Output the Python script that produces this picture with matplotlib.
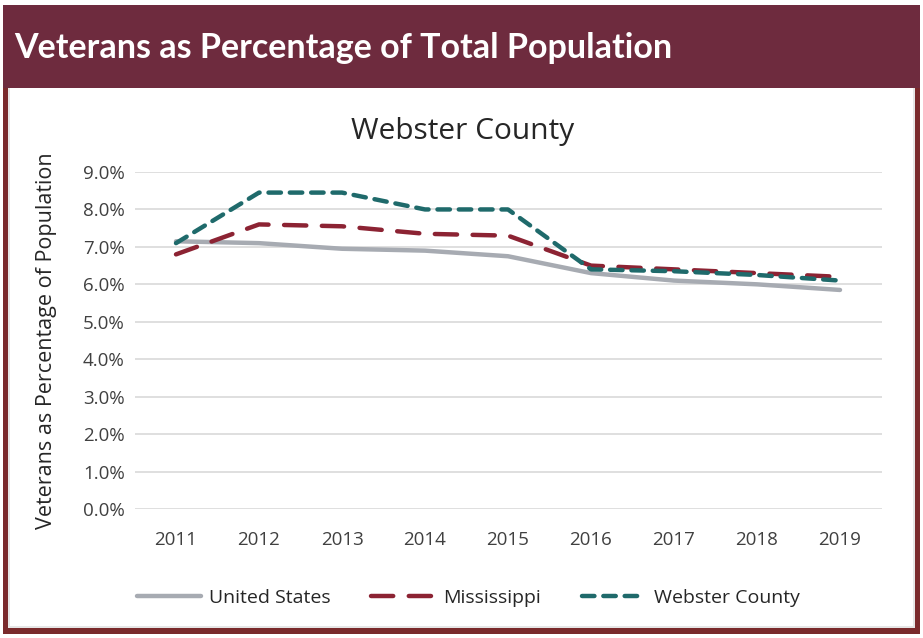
import matplotlib.pyplot as plt
from matplotlib.patches import Rectangle
from matplotlib.ticker import PercentFormatter

years = ['2011', '2012', '2013', '2014', '2015', '2016', '2017', '2018', '2019']
united_states = [7.15, 7.1, 6.95, 6.9, 6.75, 6.3, 6.1, 6.0, 5.85]
mississippi = [6.8, 7.6, 7.55, 7.35, 7.3, 6.5, 6.4, 6.3, 6.2]
webster = [7.1, 8.45, 8.45, 8.0, 8.0, 6.4, 6.35, 6.25, 6.1]

W, H = 923, 638
plt.rcParams['font.family'] = ['Open Sans', 'DejaVu Sans']

fig = plt.figure(figsize=(W / 100, H / 100), dpi=100)

def px_rect(x0, y0, x1, y1, **kw):
    # rectangle given in pixel coords, origin top-left
    r = Rectangle((x0 / W, 1 - y1 / H), (x1 - x0) / W, (y1 - y0) / H,
                  transform=fig.transFigure, **kw)
    fig.add_artist(r)

maroon = '#6e2b3e'
frame = '#7a2a2c'
# outer frame of the lower box
px_rect(3, 86, 920, 634, facecolor=frame, edgecolor='none', zorder=0)
px_rect(8, 88, 915, 628, facecolor='#e6e6e6', edgecolor='none', zorder=0)
px_rect(10, 88, 913, 626, facecolor='white', edgecolor='none', zorder=0)
# header band
px_rect(3, 5, 920, 88, facecolor=maroon, edgecolor='none', zorder=1)
fig.text(14 / W, 1 - 48 / H, 'Veterans as Percentage of Total Population',
         color='white', fontsize=24.5, fontweight='bold', family=['Lato', 'DejaVu Sans'],
         va='center', ha='left')

ax = fig.add_axes([134.5 / W, 1 - 509 / H, 747 / W, 337 / H])
ax.set_facecolor('none')
x = range(len(years))

ax.plot(x, united_states, color='#a7abb2', lw=3.2, solid_capstyle='round',
        label='United States')
ax.plot(x, mississippi, color='#8c2333', lw=3.2, dashes=(5, 3.5),
        dash_capstyle='round', label='Mississippi')
ax.plot(x, webster, color='#1f6a6b', lw=3.2, dashes=(2.8, 2),
        dash_capstyle='round', label='Webster County')

ax.set_xlim(-0.5, len(years) - 0.5)
ax.set_ylim(0, 9)
ax.set_yticks([i for i in range(10)])
ax.yaxis.set_major_formatter(PercentFormatter(decimals=1))
ax.set_xticks(list(x))
ax.set_xticklabels(years)
ax.grid(axis='y', color='#d9d9d9', lw=1.2)
ax.set_axisbelow(True)
for s in ax.spines.values():
    s.set_visible(False)
ax.tick_params(length=0, labelsize=13.5, colors='#404040')
ax.tick_params(axis='x', pad=16)
ax.tick_params(axis='y', pad=7)

fig.text(463 / W, 1 - 131 / H, 'Webster County', fontsize=21.5,
         color='#262626', ha='center', va='center')
ax.set_ylabel('Veterans as Percentage of Population', fontsize=15.5,
              color='#262626', labelpad=19)

ax.legend(loc='center', bbox_to_anchor=(468 / W, 1 - 598 / H),
          bbox_transform=fig.transFigure, ncol=3,
          frameon=False, fontsize=14, handlelength=3.3, columnspacing=2.1,
          handletextpad=0.4, labelcolor='#262626')

fig.savefig('out.png', dpi=100)
